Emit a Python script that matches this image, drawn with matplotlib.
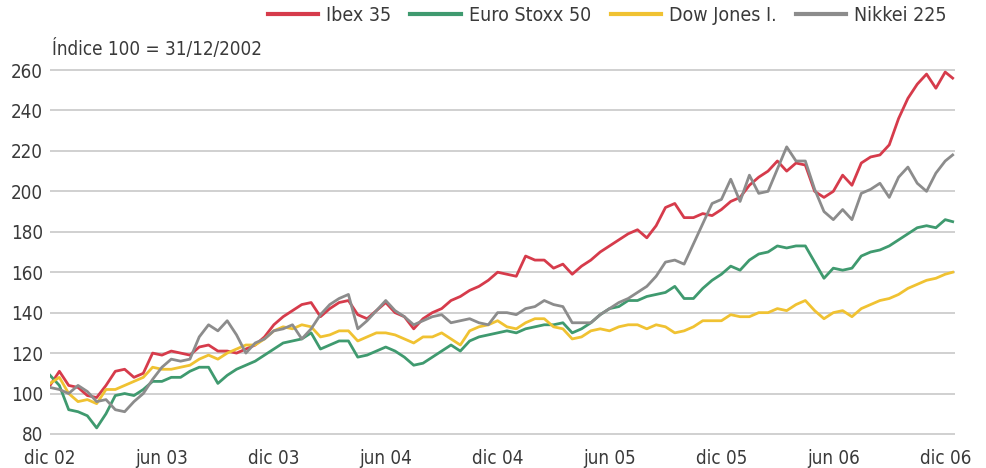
import numpy as np
import matplotlib
matplotlib.use("Agg")
import matplotlib.pyplot as plt

# months since 31/12/2002, sampled every half month
months = list(np.arange(0, 48.5, 0.5)) + [48.4]

ibex = [104, 111, 104, 103, 99, 98, 104, 111, 112, 108, 110, 120, 119, 121, 120, 119,
        123, 124, 121, 121, 120, 122, 124, 128, 134, 138, 141, 144, 145, 138, 142, 145,
        146, 139, 137, 141, 145, 140, 138, 132, 137, 140, 142, 146, 148, 151, 153, 156,
        160, 159, 158, 168, 166, 166, 162, 164, 159, 163, 166, 170, 173, 176, 179, 181,
        177, 183, 192, 194, 187, 187, 189, 188, 191, 195, 197, 203, 207, 210, 215, 210,
        214, 213, 200, 197, 200, 208, 203, 214, 217, 218, 223, 236, 246, 253, 258, 251,
        259, 256]

eurostoxx = [109, 104, 92, 91, 89, 83, 90, 99, 100, 99, 102, 106, 106, 108, 108, 111,
             113, 113, 105, 109, 112, 114, 116, 119, 122, 125, 126, 127, 130, 122, 124, 126,
             126, 118, 119, 121, 123, 121, 118, 114, 115, 118, 121, 124, 121, 126, 128, 129,
             130, 131, 130, 132, 133, 134, 134, 135, 130, 132, 135, 139, 142, 143, 146, 146,
             148, 149, 150, 153, 147, 147, 152, 156, 159, 163, 161, 166, 169, 170, 173, 172,
             173, 173, 165, 157, 162, 161, 162, 168, 170, 171, 173, 176, 179, 182, 183, 182,
             186, 185]

dowjones = [105, 108, 100, 96, 97, 95, 102, 102, 104, 106, 108, 113, 112, 112, 113, 114,
            117, 119, 117, 120, 122, 124, 124, 127, 131, 133, 132, 134, 133, 128, 129, 131,
            131, 126, 128, 130, 130, 129, 127, 125, 128, 128, 130, 127, 124, 131, 133, 134,
            136, 133, 132, 135, 137, 137, 133, 132, 127, 128, 131, 132, 131, 133, 134, 134,
            132, 134, 133, 130, 131, 133, 136, 136, 136, 139, 138, 138, 140, 140, 142, 141,
            144, 146, 141, 137, 140, 141, 138, 142, 144, 146, 147, 149, 152, 154, 156, 157,
            159, 160]

nikkei = [103, 102, 100, 104, 101, 96, 97, 92, 91, 96, 100, 107, 113, 117, 116, 117,
          128, 134, 131, 136, 129, 120, 125, 127, 131, 132, 134, 127, 132, 139, 144, 147,
          149, 132, 136, 141, 146, 141, 138, 134, 136, 138, 139, 135, 136, 137, 135, 134,
          140, 140, 139, 142, 143, 146, 144, 143, 135, 135, 135, 139, 142, 145, 147, 150,
          153, 158, 165, 166, 164, 174, 184, 194, 196, 206, 195, 208, 199, 200, 211, 222,
          215, 215, 201, 190, 186, 191, 186, 199, 201, 204, 197, 207, 212, 204, 200, 209,
          215, 218]

series = [ibex, eurostoxx, dowjones, nikkei]
names = ["Ibex 35", "Euro Stoxx 50", "Dow Jones I.", "Nikkei 225"]
colors = ["#d63b4b", "#3f9a6f", "#f0c232", "#8c8c8c"]

tick_pos = [0, 6, 12, 18, 24, 30, 36, 42, 48]
tick_labels = ["dic 02", "jun 03", "dic 03", "jun 04", "dic 04",
               "jun 05", "dic 05", "jun 06", "dic 06"]

plt.rcParams['font.family'] = ['DejaVu Sans']
plt.rcParams['font.stretch'] = 'condensed'

fig = plt.figure(figsize=(9.87, 4.68), dpi=100)
ax = fig.add_axes([0.0507, 0.0641, 0.9164, 0.7949])

for vals, name, col in zip(series, names, colors):
    ax.plot(months, vals, color=col, lw=2.0, label=name)

ax.set_xlim(0, 48.5)
ax.set_ylim(78, 262)
ax.set_yticks(range(80, 261, 20))
ax.set_xticks(tick_pos)
ax.set_xticklabels(tick_labels)
ax.grid(axis='y', color='#c8c8c8', lw=1.2)
ax.set_axisbelow(True)
for s in ax.spines.values():
    s.set_visible(False)
ax.tick_params(length=0, labelsize=13.5, colors='#3a3a3a')
ax.tick_params(axis='y', pad=5)
ax.tick_params(axis='x', pad=8)

leg = ax.legend(loc='lower right', bbox_to_anchor=(1.0, 1.09), ncol=4, frameon=False,
                fontsize=14, handlelength=2.6, handletextpad=0.4, columnspacing=1.0,
                borderaxespad=0, labelcolor='#3a3a3a')
for ln in leg.get_lines():
    ln.set_linewidth(3.0)
fig.text(0.053, 0.895, "Índice 100 = 31/12/2002", fontsize=13.5, color='#3a3a3a',
         va='center')

fig.savefig("out.png", dpi=100)
